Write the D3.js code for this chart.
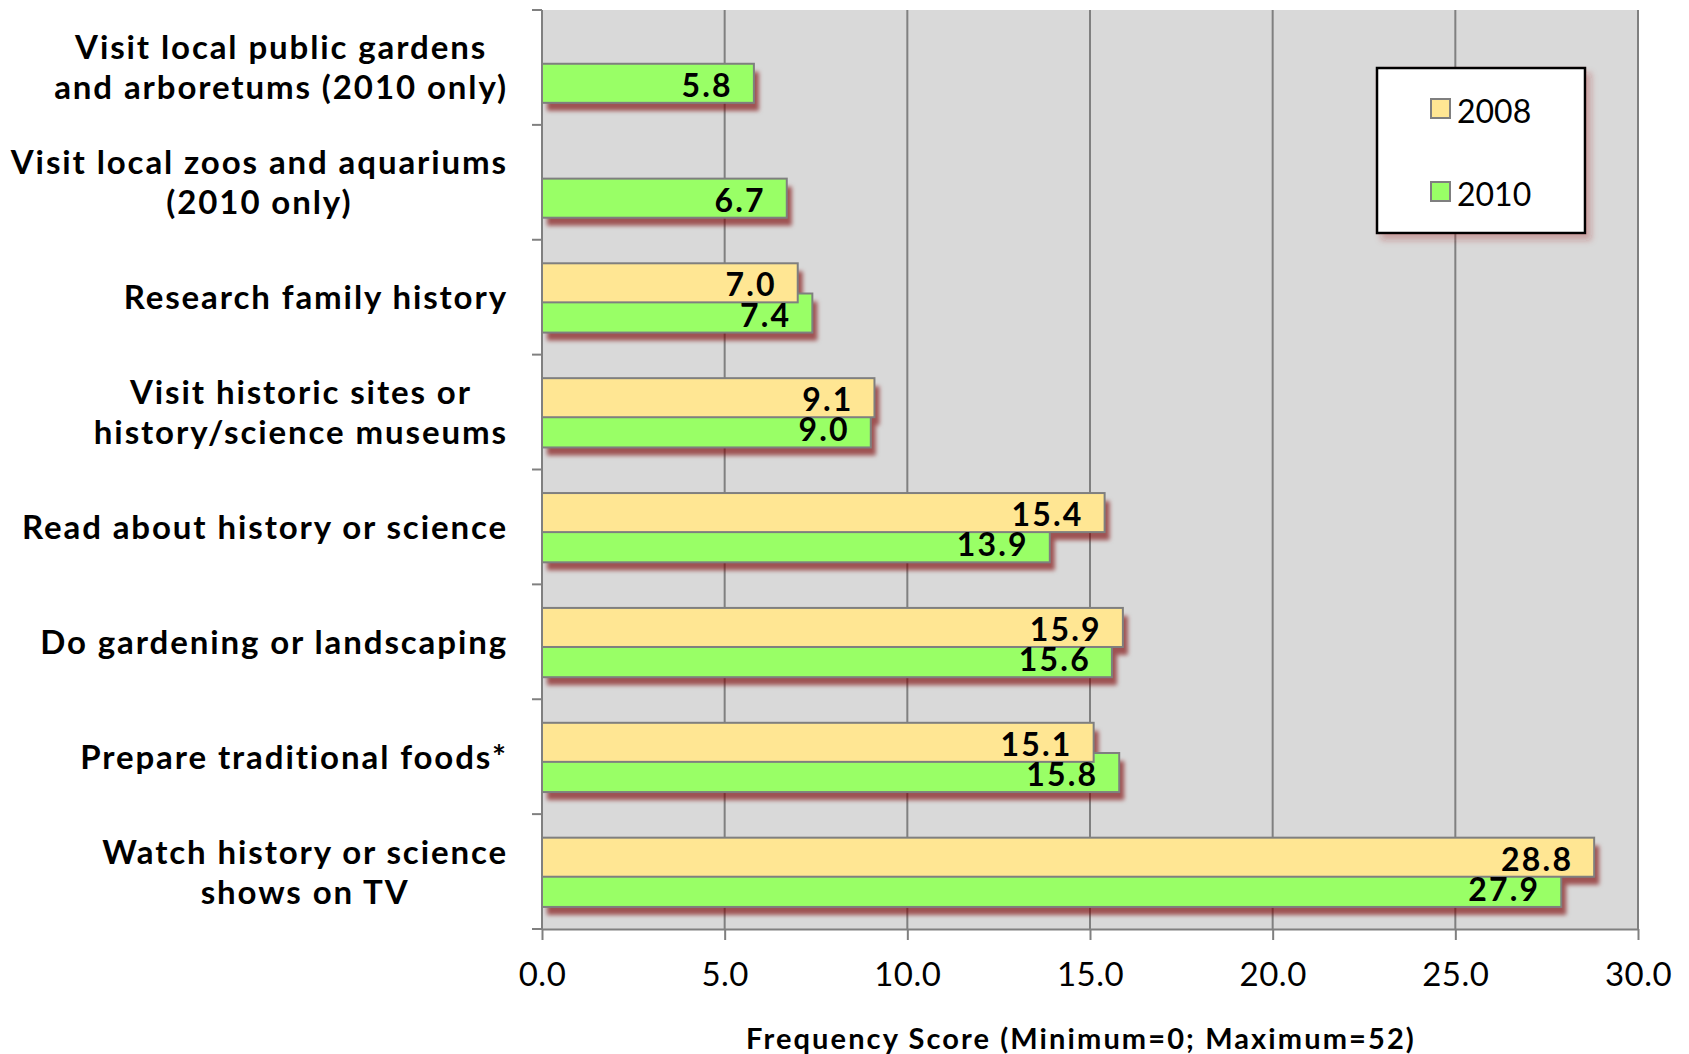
<!DOCTYPE html>
<html>
<head>
<meta charset="utf-8">
<script src="https://cdn.jsdelivr.net/npm/d3@7"></script>
<style>
  html, body { margin: 0; padding: 0; background: #ffffff; }
  svg { display: block; }
</style>
</head>
<body>
<svg id="chart" width="1689" height="1054"></svg>
<script>
// ---- data ----
const categories = [
  "Visit local public gardens|and arboretums (2010 only)",
  "Visit local zoos and aquariums|(2010 only)",
  "Research family history",
  "Visit historic sites or|history/science museums",
  "Read about history or science",
  "Do gardening or landscaping",
  "Prepare traditional foods*",
  "Watch history or science|shows on TV"
];
const values2008 = [null, null, 7.0, 9.1, 15.4, 15.9, 15.1, 28.8];
const values2010 = [5.8, 6.7, 7.4, 9.0, 13.9, 15.6, 15.8, 27.9];
const seriesNames = ["2008", "2010"];
const seriesColors = ["#ffe693", "#99ff66"];
const xTickValues = [0, 5, 10, 15, 20, 25, 30];
const xAxisTitle = "Frequency Score (Minimum=0; Maximum=52)";

// ---- layout ----
const svg = d3.select("#chart");
const plot = { left: 542, right: 1638, top: 10, bottom: 929 };
const FONT = "Lato, 'Open Sans', sans-serif";

const x = d3.scaleLinear().domain([0, 30]).range([plot.left, plot.right]);
const y = d3.scaleBand().domain(categories).range([plot.top, plot.bottom]);
const bw = y.bandwidth();
const barH = bw * 0.34;
const offset = { "2008": bw * 0.205, "2010": bw * 0.468 };

// filters
const defs = svg.append("defs");
const f = defs.append("filter").attr("id", "shadow")
  .attr("x", "-10%").attr("y", "-30%").attr("width", "130%").attr("height", "190%");
f.append("feGaussianBlur").attr("in", "SourceAlpha").attr("stdDeviation", 2.2).attr("result", "b");
f.append("feOffset").attr("in", "b").attr("dx", 5).attr("dy", 8).attr("result", "o");
f.append("feFlood").attr("flood-color", "#7a0000").attr("flood-opacity", 0.62).attr("result", "c");
f.append("feComposite").attr("in", "c").attr("in2", "o").attr("operator", "in");

const f2 = defs.append("filter").attr("id", "lshadow")
  .attr("x", "-10%").attr("y", "-10%").attr("width", "130%").attr("height", "130%");
f2.append("feGaussianBlur").attr("in", "SourceAlpha").attr("stdDeviation", 3).attr("result", "b");
f2.append("feOffset").attr("in", "b").attr("dx", 5).attr("dy", 6).attr("result", "o");
f2.append("feFlood").attr("flood-color", "#a02020").attr("flood-opacity", 0.3).attr("result", "c");
f2.append("feComposite").attr("in", "c").attr("in2", "o").attr("operator", "in").attr("result", "s");
const m2 = f2.append("feMerge");
m2.append("feMergeNode").attr("in", "s");
m2.append("feMergeNode").attr("in", "SourceGraphic");

// plot background
svg.append("rect")
  .attr("x", plot.left).attr("y", plot.top)
  .attr("width", plot.right - plot.left).attr("height", plot.bottom - plot.top)
  .attr("fill", "#d9d9d9");

// gridlines
svg.append("g").selectAll("line").data(xTickValues.filter(v => v > 0)).join("line")
  .attr("x1", d => x(d)).attr("x2", d => x(d))
  .attr("y1", plot.top).attr("y2", plot.bottom)
  .attr("stroke", "#808080").attr("stroke-width", 2);

// build bar records
const bars = [];
categories.forEach((c, i) => {
  [values2008[i], values2010[i]].forEach((v, s) => {
    if (v !== null) bars.push({ cat: c, series: seriesNames[s], s, value: v });
  });
});
// draw 2010 first, 2008 on top
const drawOrder = bars.slice().sort((a, b) => b.s - a.s);

// shadows layer
svg.append("g").attr("filter", "url(#shadow)")
  .selectAll("rect").data(drawOrder).join("rect")
  .attr("x", x(0))
  .attr("y", d => y(d.cat) + offset[d.series])
  .attr("width", d => x(d.value) - x(0))
  .attr("height", barH)
  .attr("fill", "#000");

// bars
svg.append("g").selectAll("rect").data(drawOrder).join("rect")
  .attr("x", x(0))
  .attr("y", d => y(d.cat) + offset[d.series])
  .attr("width", d => x(d.value) - x(0))
  .attr("height", barH)
  .attr("fill", d => seriesColors[d.s])
  .attr("stroke", "#7f7f7f").attr("stroke-width", 2);

// data labels
svg.append("g").selectAll("text").data(drawOrder).join("text")
  .attr("x", d => x(d.value) - 21)
  .attr("y", d => y(d.cat) + offset[d.series] + barH - 6)
  .attr("text-anchor", "end")
  .attr("font-family", FONT).attr("font-weight", "bold")
  .attr("font-size", 32).attr("letter-spacing", 2.2).attr("fill", "#000")
  .text(d => d.value.toFixed(1));

// left axis line + ticks
svg.append("line")
  .attr("x1", plot.left).attr("x2", plot.left)
  .attr("y1", plot.top).attr("y2", plot.bottom)
  .attr("stroke", "#808080").attr("stroke-width", 2);
const boundaries = categories.map(c => y(c)).concat([plot.bottom]);
svg.append("g").selectAll("line").data(boundaries).join("line")
  .attr("x1", plot.left - 10).attr("x2", plot.left)
  .attr("y1", d => d).attr("y2", d => d)
  .attr("stroke", "#808080").attr("stroke-width", 2);

// bottom axis
const xAxis = d3.axisBottom(x).tickValues(xTickValues).tickFormat(d3.format(".1f"))
  .tickSizeInner(11).tickSizeOuter(0).tickPadding(23);
const gx = svg.append("g").attr("transform", `translate(0,${plot.bottom})`).call(xAxis);
gx.select(".domain").attr("stroke", "#808080").attr("stroke-width", 2);
gx.selectAll(".tick line").attr("stroke", "#808080").attr("stroke-width", 2);
gx.selectAll(".tick text")
  .attr("font-family", FONT).attr("font-size", 33).attr("letter-spacing", 0.5).attr("fill", "#000");

// axis title
svg.append("text")
  .attr("x", (plot.left + plot.right) / 2 - 9)
  .attr("y", 1049)
  .attr("text-anchor", "middle")
  .attr("font-family", FONT).attr("font-weight", "bold").attr("font-size", 29)
  .attr("letter-spacing", 2.1)
  .attr("fill", "#000")
  .text(xAxisTitle);

// category labels (centered multi-line blocks, right-aligned)
const labelRight = 508;
const lineGap = 40;
categories.forEach(c => {
  const lines = c.split("|");
  const cy = y(c) + bw / 2;
  const g = svg.append("g");
  const texts = lines.map((ln, k) => g.append("text")
    .attr("y", cy + 12 - (lines.length - 1) * lineGap / 2 + k * lineGap)
    .attr("text-anchor", "middle")
    .attr("font-family", FONT).attr("font-weight", "bold").attr("font-size", 33)
    .attr("letter-spacing", 1.9)
    .attr("fill", "#000")
    .text(ln));
  const maxW = d3.max(texts, t => t.node().getComputedTextLength());
  texts.forEach(t => t.attr("x", labelRight - maxW / 2));
});

// legend
const lg = svg.append("g");
lg.append("rect")
  .attr("x", 1377).attr("y", 68).attr("width", 208).attr("height", 165)
  .attr("fill", "#fff").attr("stroke", "#000").attr("stroke-width", 2.5)
  .attr("filter", "url(#lshadow)");
seriesNames.forEach((s, i) => {
  const ly = 99 + i * 83;
  lg.append("rect").attr("x", 1431).attr("y", ly).attr("width", 19).attr("height", 19)
    .attr("fill", seriesColors[i]).attr("stroke", "#7f7f7f").attr("stroke-width", 2);
  lg.append("text").attr("x", 1457).attr("y", ly + 24)
    .attr("font-family", FONT).attr("font-size", 32).attr("fill", "#000")
    .text(s);
});
</script>
</body>
</html>
